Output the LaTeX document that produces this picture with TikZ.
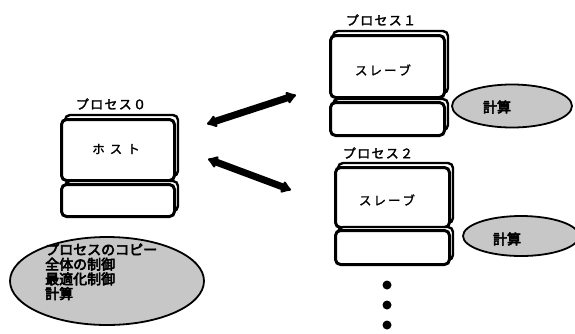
\documentclass[tikz,border=0pt]{standalone}
\usepackage{fontspec}
\usetikzlibrary{arrows.meta,shapes.geometric}
\newfontfamily\jp[FakeBold=1.5]{Noto Sans CJK JP}
\newfontfamily\jpl[FakeBold=2,LetterSpace=10]{Noto Sans CJK JP}
\newfontfamily\jpb[FakeBold=4]{Noto Sans CJK JP}
\tikzset{
  box/.style={draw=black,line width=3pt,rounded corners=5pt,fill=white},
  boxshadow/.style={draw=black,line width=2.4pt,rounded corners=5pt,fill=white},
  lbl/.style={font=\jpl\fontsize{13}{15}\selectfont,inner sep=0pt},
  inlbl/.style={font=\jp\fontsize{12.5}{14}\selectfont,inner sep=0pt},
  calctxt/.style={font=\jpb\fontsize{14}{15}\selectfont,inner sep=0pt},
  calc/.style={ellipse,draw=black,line width=1.8pt,fill=black!22,inner sep=0pt},
  bigarrow/.style={line width=7pt,{Latex[round,length=11pt,width=15pt]}-{Latex[round,length=11pt,width=15pt]}},
  dot/.style={circle,fill=black,inner sep=0pt,minimum size=9pt}
}
\begin{document}
\begin{tikzpicture}[x=1pt,y=-1pt]
\useasboundingbox[fill=white] (0,0) rectangle (575,333);

% host (process 0)
\draw[boxshadow] (65,115) rectangle (178,176);
\node[box,minimum width=113pt,minimum height=61pt,anchor=north west] (host) at (60,118) {};
\draw[boxshadow] (65,181) rectangle (178,211);
\node[box,minimum width=113pt,minimum height=32pt,anchor=north west] (hostlow) at (60,183) {};
\node[lbl] (p0) at (111,104) {プロセス０};
\node[inlbl] (hostt) at (116,149) {ホ\hspace{5pt}ス\hspace{5pt}ト};

% slave 1
\draw[boxshadow] (333,31) rectangle (448,93);
\node[box,minimum width=114pt,minimum height=62pt,anchor=north west] (s1) at (329,34) {};
\draw[boxshadow] (333,99) rectangle (448,130);
\node[box,minimum width=114pt,minimum height=33pt,anchor=north west] (s1low) at (329,101) {};
\node[lbl] (p1) at (381,20) {プロセス１};
\node[inlbl] (s1t) at (383,70) {ス\hspace{2pt}レ\hspace{2pt}ー\hspace{2pt}ブ};

% slave 2
\draw[boxshadow] (338,163) rectangle (453,223);
\node[box,minimum width=114pt,minimum height=60pt,anchor=north west] (s2) at (334,166) {};
\draw[boxshadow] (338,227) rectangle (453,260);
\node[box,minimum width=114pt,minimum height=34pt,anchor=north west] (s2low) at (334,229) {};
\node[lbl] (p2) at (378,153) {プロセス２};
\node[inlbl] (s2t) at (387,200) {ス\hspace{2pt}レ\hspace{2pt}ー\hspace{2pt}ブ};

% calc ellipses
\node[calc,minimum width=120pt,minimum height=43pt] (c1) at (512,106) {};
\node[calctxt] (c1t) at (497,107) {計算};
\node[calc,minimum width=116pt,minimum height=40pt] (c2) at (521,236) {};
\node[calctxt] (c2t) at (507,239) {計算};

% big ellipse
\node[calc,minimum width=194pt,minimum height=88pt] (big) at (107,281) {};
\node[font=\jpb\fontsize{14}{14.7}\selectfont,align=left,anchor=north west,inner sep=0pt] (bigt) at (45,243)
  {プロセスのコピー\\全体の制御\\最適化制御\\計算};

% arrows
\coordinate (a1s) at (207,124);
\coordinate (a1e) at (296,95);
\coordinate (a2s) at (208,159);
\coordinate (a2e) at (291,190);
\draw[bigarrow] (a1s) -- (a1e);
\draw[bigarrow] (a2s) -- (a2e);

% dots
\node[dot] (d1) at (387,285) {};
\node[dot] (d2) at (387,305) {};
\node[dot] (d3) at (387,325) {};
\end{tikzpicture}
\end{document}
